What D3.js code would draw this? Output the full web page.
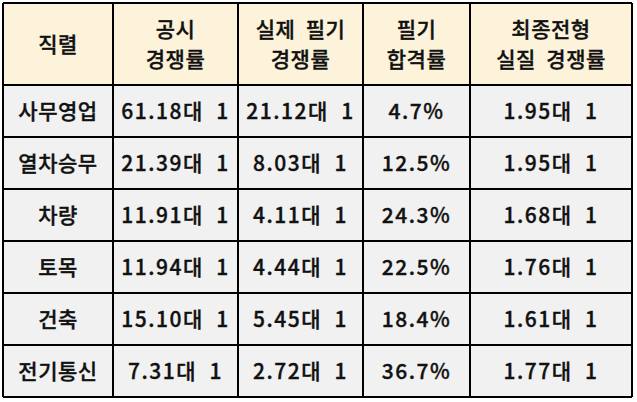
<!DOCTYPE html>
<html><head><meta charset="utf-8">
<script src="https://cdn.jsdelivr.net/npm/d3@7"></script>
<style>body{margin:0;background:#fff;} svg{display:block;}</style>
</head><body><div id="c"></div>
<script>
const headers = [["직렬"], ["공시", "경쟁률"], ["실제 필기", "경쟁률"], ["필기", "합격률"], ["최종전형", "실질 경쟁률"]];
const jobs = ["사무영업", "열차승무", "차량", "토목", "건축", "전기통신"];
const publicRatio = ["61.18대 1", "21.39대 1", "11.91대 1", "11.94대 1", "15.10대 1", "7.31대 1"];
const writtenRatio = ["21.12대 1", "8.03대 1", "4.11대 1", "4.44대 1", "5.45대 1", "2.72대 1"];
const passRate = ["4.7%", "12.5%", "24.3%", "22.5%", "18.4%", "36.7%"];
const finalRatio = ["1.95대 1", "1.95대 1", "1.68대 1", "1.76대 1", "1.61대 1", "1.77대 1"];

const W = 637, H = 402;
const svg = d3.select("#c").append("svg").attr("width", W).attr("height", H);

const colEdges = [3, 113, 238, 363, 470, 632];
const xScale = d3.scaleLinear().domain([0, 1, 2, 3, 4, 5]).range(colEdges);
const headerTop = 3, headerBottom = 85, bottom = 397;
const yScale = d3.scaleBand().domain(d3.range(jobs.length)).range([headerBottom, bottom]).padding(0);

const font = "'Noto Sans CJK KR', 'Noto Sans', sans-serif";
const fs = 21;
const fw = 500;

svg.append("rect").attr("x", xScale(0)).attr("y", headerTop)
  .attr("width", xScale(5) - xScale(0)).attr("height", headerBottom - headerTop)
  .attr("fill", "#FDF3DA");
svg.append("rect").attr("x", xScale(0)).attr("y", headerBottom)
  .attr("width", xScale(5) - xScale(0)).attr("height", bottom - headerBottom)
  .attr("fill", "#F1F1F1");

function styleText(sel, spacing) {
  sel.attr("font-family", font).attr("font-size", fs).attr("font-weight", fw)
    .attr("letter-spacing", spacing).style("white-space", "pre")
    .attr("fill", "#111").attr("stroke", "#111").attr("stroke-width", 0.35)
    .attr("text-anchor", "middle").attr("dy", "0.36em");
}

headers.forEach((lines, i) => {
  const cx = (xScale(i) + xScale(i + 1)) / 2;
  const cy = (headerTop + headerBottom) / 2 + 0.5;
  const lh = 29.5;
  lines.forEach((l, k) => {
    svg.append("text").attr("x", cx)
      .attr("y", cy + (k - (lines.length - 1) / 2) * lh)
      .call(styleText, "0.5px")
      .text(l.replace(" ", "  "));
  });
});

const columns = [jobs, publicRatio, writtenRatio, passRate, finalRatio];
jobs.forEach((_, r) => {
  columns.forEach((col, c) => {
    svg.append("text")
      .attr("x", (xScale(c) + xScale(c + 1)) / 2)
      .attr("y", yScale(r) + yScale.bandwidth() / 2)
      .call(styleText, c === 0 ? "0.5px" : "1.5px")
      .text(col[r].replace(" ", "  "));
  });
});

const g = svg.append("g").attr("stroke", "#000").attr("stroke-width", 1.6).attr("shape-rendering", "crispEdges");
d3.range(6).forEach(i => {
  g.append("line").attr("x1", xScale(i)).attr("x2", xScale(i)).attr("y1", headerTop).attr("y2", bottom);
});
[headerTop].concat(d3.range(jobs.length).map(r => yScale(r)), [bottom]).forEach(y => {
  g.append("line").attr("x1", xScale(0)).attr("x2", xScale(5)).attr("y1", y).attr("y2", y);
});
</script></body></html>
